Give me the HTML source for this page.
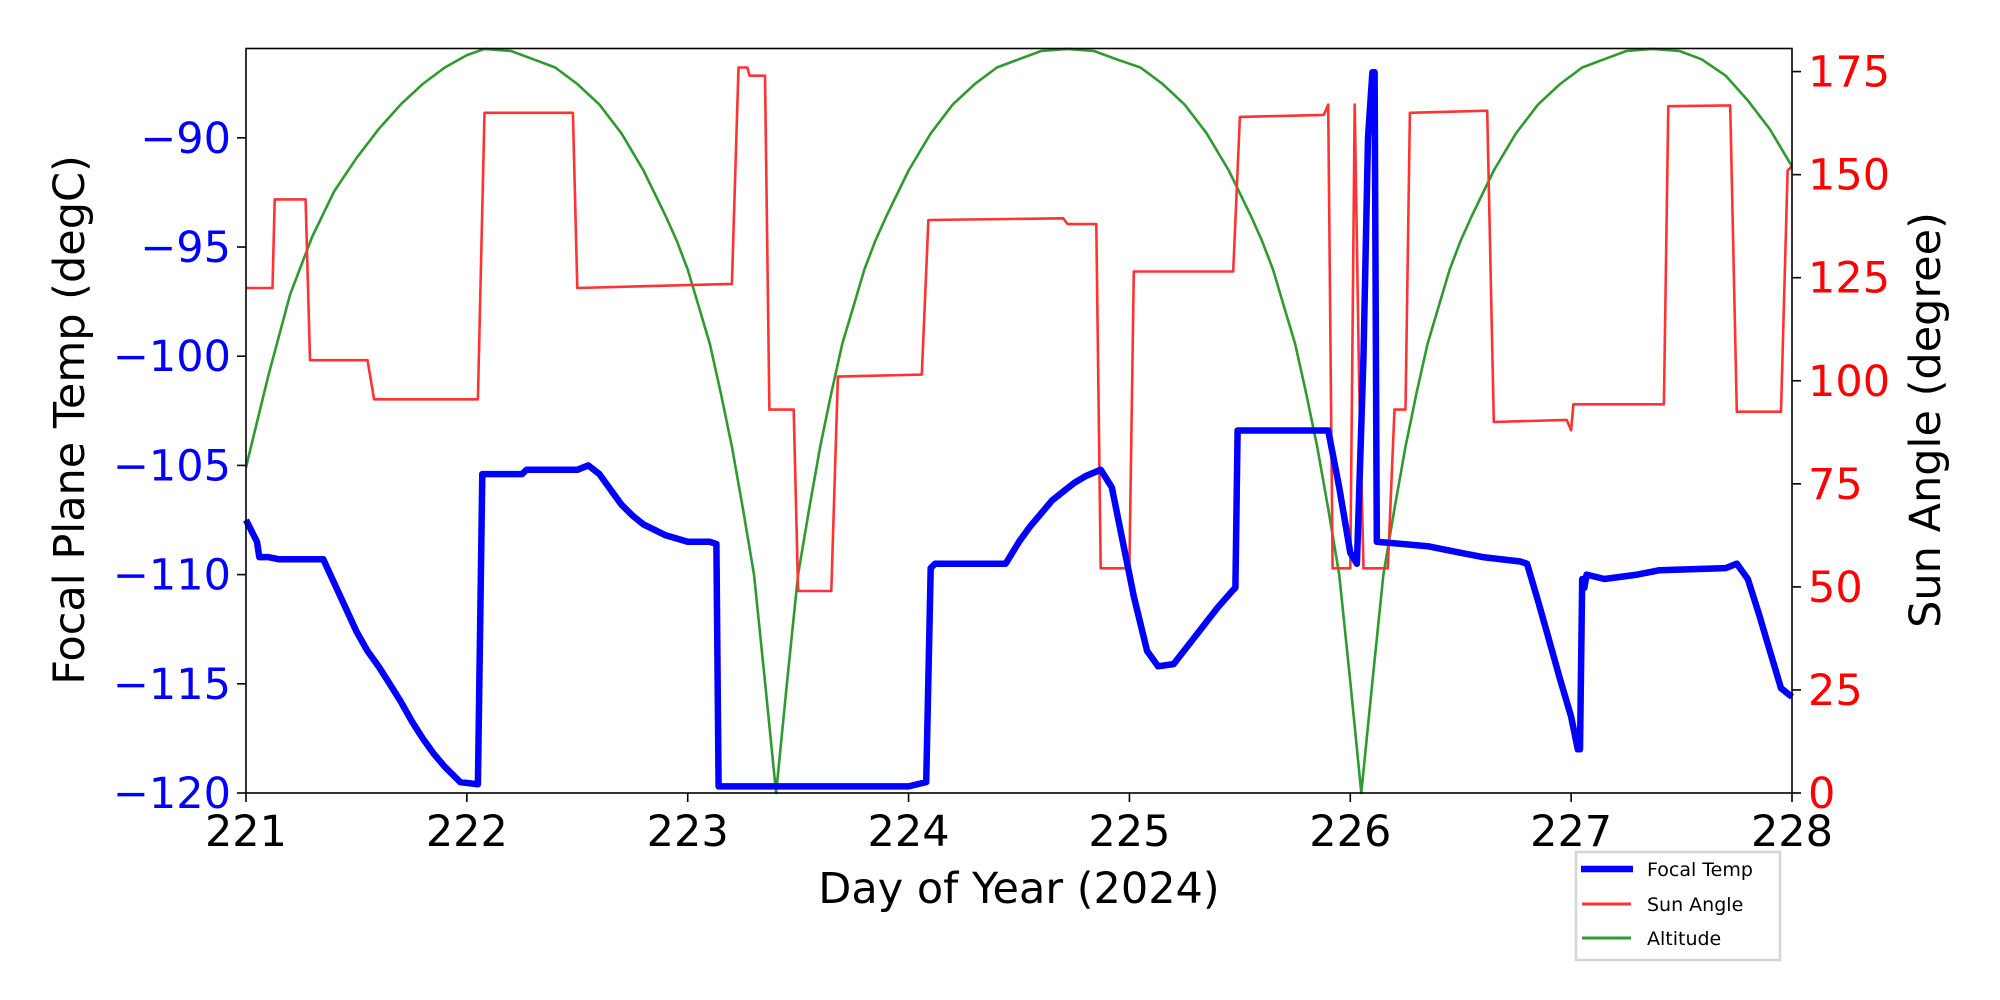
<!DOCTYPE html>
<html><head><meta charset="utf-8"><style>
html,body{margin:0;padding:0;background:#fff;}
svg{display:block;font-family:"DejaVu Sans","Liberation Sans",sans-serif;}
</style></head><body>
<svg id="chart" width="2000" height="1000" viewBox="0 0 2000 1000" xmlns="http://www.w3.org/2000/svg">
<rect width="2000" height="1000" fill="#fff"/>
<g id="plot"></g>
<g id="axes"></g>
<text x="1019" y="903" font-size="43" text-anchor="middle">Day of Year (2024)</text>
<text transform="translate(84,420) rotate(-90)" font-size="43" text-anchor="middle">Focal Plane Temp (degC)</text>
<text transform="translate(1940,420) rotate(-90)" font-size="43" text-anchor="middle">Sun Angle (degree)</text>
<g>
<rect x="1576" y="852" width="204" height="108" fill="#fff" stroke="#d6d6d6" stroke-width="2.5"/>
<g><line x1="1581" y1="869" x2="1633" y2="869" stroke="#0000ff" stroke-width="6.5"/><text x="1647" y="876" font-size="19">Focal Temp</text></g>
<g><line x1="1582" y1="904" x2="1631" y2="904" stroke="#ff3333" stroke-width="3"/><text x="1647" y="911" font-size="19">Sun Angle</text></g>
<g><line x1="1582" y1="938" x2="1631" y2="938" stroke="#2f9a2f" stroke-width="3"/><text x="1647" y="945" font-size="19">Altitude</text></g>
</g>
</svg>
<script>
const xTicks=[221,222,223,224,225,226,227,228];
const leftTicks=[-120,-115,-110,-105,-100,-95,-90];
const rightTicks=[0,25,50,75,100,125,150,175];
const tempDays=[221.0,221.05,221.06,221.1,221.15,221.3,221.35,221.4,221.45,221.5,221.55,221.6,221.65,221.7,221.75,221.8,221.85,221.9,221.97,222.05,222.07,222.25,222.27,222.5,222.55,222.6,222.65,222.7,222.75,222.8,222.9,223.0,223.1,223.13,223.14,224.0,224.08,224.1,224.12,224.44,224.5,224.55,224.6,224.65,224.7,224.75,224.8,224.87,224.92,224.97,225.02,225.08,225.13,225.2,225.3,225.4,225.47,225.48,225.49,225.85,225.9,225.95,226.0,226.03,226.06,226.08,226.1,226.11,226.12,226.35,226.5,226.6,226.77,226.8,226.85,226.9,226.95,227.0,227.03,227.04,227.05,227.06,227.07,227.15,227.3,227.4,227.7,227.75,227.8,227.85,227.9,227.95,228.0];
const tempVals=[-107.5,-108.5,-109.2,-109.2,-109.3,-109.3,-109.3,-110.4,-111.5,-112.6,-113.5,-114.2,-115,-115.8,-116.7,-117.5,-118.2,-118.8,-119.5,-119.6,-105.4,-105.4,-105.2,-105.2,-105,-105.4,-106.1,-106.8,-107.3,-107.7,-108.2,-108.5,-108.5,-108.6,-119.7,-119.7,-119.5,-109.7,-109.5,-109.5,-108.5,-107.8,-107.2,-106.6,-106.2,-105.8,-105.5,-105.2,-106,-108.5,-111,-113.5,-114.2,-114.1,-112.8,-111.5,-110.7,-110.6,-103.4,-103.4,-103.4,-106,-109,-109.5,-100,-90,-87,-87,-108.5,-108.7,-109,-109.2,-109.4,-109.5,-111.2,-113,-114.8,-116.5,-118,-118,-110.2,-110.6,-110,-110.2,-110,-109.8,-109.7,-109.5,-110.2,-111.8,-113.5,-115.2,-115.6];
const sunDays=[221.0,221.12,221.13,221.27,221.29,221.55,221.58,222.05,222.08,222.48,222.5,223.2,223.23,223.27,223.28,223.35,223.37,223.48,223.5,223.65,223.68,224.06,224.09,224.7,224.72,224.85,224.87,225.0,225.02,225.47,225.5,225.88,225.9,225.92,226.0,226.02,226.04,226.06,226.17,226.2,226.25,226.27,226.62,226.65,226.98,227.0,227.01,227.42,227.44,227.72,227.75,227.95,227.98,228.0];
const sunVals=[122.5,122.5,144,144,105,105,95.5,95.5,165,165,122.5,123.5,176,176,174,174,93,93,49,49,101,101.5,139,139.4,138,138,54.5,54.5,126.5,126.5,164,164.5,167,54.5,54.5,167,100,54.5,54.5,93,93,165,165.5,90,90.5,88,94.3,94.3,166.6,166.8,92.5,92.5,151,152];
const altDays=[221.0,221.1,221.2,221.3,221.4,221.5,221.6,221.7,221.8,221.9,222.0,222.08,222.2,222.3,222.4,222.5,222.6,222.7,222.8,222.9,222.95,223.0,223.05,223.1,223.15,223.2,223.25,223.3,223.35,223.4,
223.45,223.5,223.55,223.6,223.65,223.7,223.75,223.8,223.85,223.9,224.0,224.1,224.2,224.3,224.4,224.5,224.6,224.72,224.84,224.94,225.05,225.15,225.25,225.35,225.45,225.55,225.6,225.65,225.7,225.75,225.8,225.85,225.9,225.95,226.0,226.05,
226.1,226.15,226.2,226.25,226.3,226.35,226.4,226.45,226.5,226.55,226.65,226.75,226.85,226.95,227.05,227.15,227.25,227.37,227.49,227.59,227.7,227.8,227.9,228.0];
const altVals=[79,101,121,135,146,154,161,167,172,176,179,180.5,180,178,176,172,167,160,151,140,134,127,118,109,97,84,69,53,27,0,
27,53,69,84,97,109,118,127,134,140,151,160,167,172,176,178,180,180.5,180,178,176,172,167,160,151,140,134,127,118,109,97,84,69,53,27,0,
27,53,69,84,97,109,118,127,134,140,151,160,167,172,176,178,180,180.5,180,178,174,168,161,152];

const L=246,R=1792,T=48.5,B=793;
const X=d=>L+(d-221)/7*(R-L);
const YL=v=>B-(v+120)/34.09*(B-T);
const YR=v=>B-v/180.6*(B-T);
const NS='http://www.w3.org/2000/svg';
const plot=document.getElementById('plot'),axes=document.getElementById('axes');
function mk(tag,attrs,parent){const e=document.createElementNS(NS,tag);for(const k in attrs)e.setAttribute(k,attrs[k]);parent.appendChild(e);return e;}
function line(days,vals,yf,color,w,name){
  const d=days.map((t,i)=>(i?'L':'M')+X(t).toFixed(1)+' '+yf(vals[i]).toFixed(1)).join(' ');
  const p=mk('path',{d:d,fill:'none',stroke:color,'stroke-width':w,'stroke-linejoin':'round'},plot);
  
  
}
line(altDays,altVals,YR,'#2f9a2f',2.6,'altitude-line');
line(sunDays,sunVals,YR,'#ff3333',2.6,'sun-angle-line');
line(tempDays,tempVals,YL,'#0000ff',6.5,'focal-temp-line');
const fr=mk('rect',{x:L,y:T,width:R-L,height:B-T,fill:'none',stroke:'#000','stroke-width':1.6},axes);


xTicks.forEach(t=>{
  const x=X(t);
  mk('line',{x1:x,y1:B,x2:x,y2:B+9,stroke:'#000','stroke-width':1.6},axes);
  const tx=mk('text',{x:x,y:B+53,'font-size':43,'text-anchor':'middle',fill:'#000'},axes);
  tx.textContent=t;
  
  
});
leftTicks.forEach(t=>{
  const y=YL(t);
  mk('line',{x1:L-9,y1:y,x2:L,y2:y,stroke:'#000','stroke-width':1.6},axes);
  const tx=mk('text',{x:L-15,y:y+15,'font-size':43,'text-anchor':'end',fill:'#0000ff'},axes);
  tx.textContent='\u2212'+Math.abs(t);
  
  
});
rightTicks.forEach(t=>{
  const y=YR(t);
  mk('line',{x1:R,y1:y,x2:R+9,y2:y,stroke:'#000','stroke-width':1.6},axes);
  const tx=mk('text',{x:R+16,y:y+15,'font-size':43,'text-anchor':'start',fill:'#ff0000'},axes);
  tx.textContent=t;
  
  
});
</script>
</body></html>
